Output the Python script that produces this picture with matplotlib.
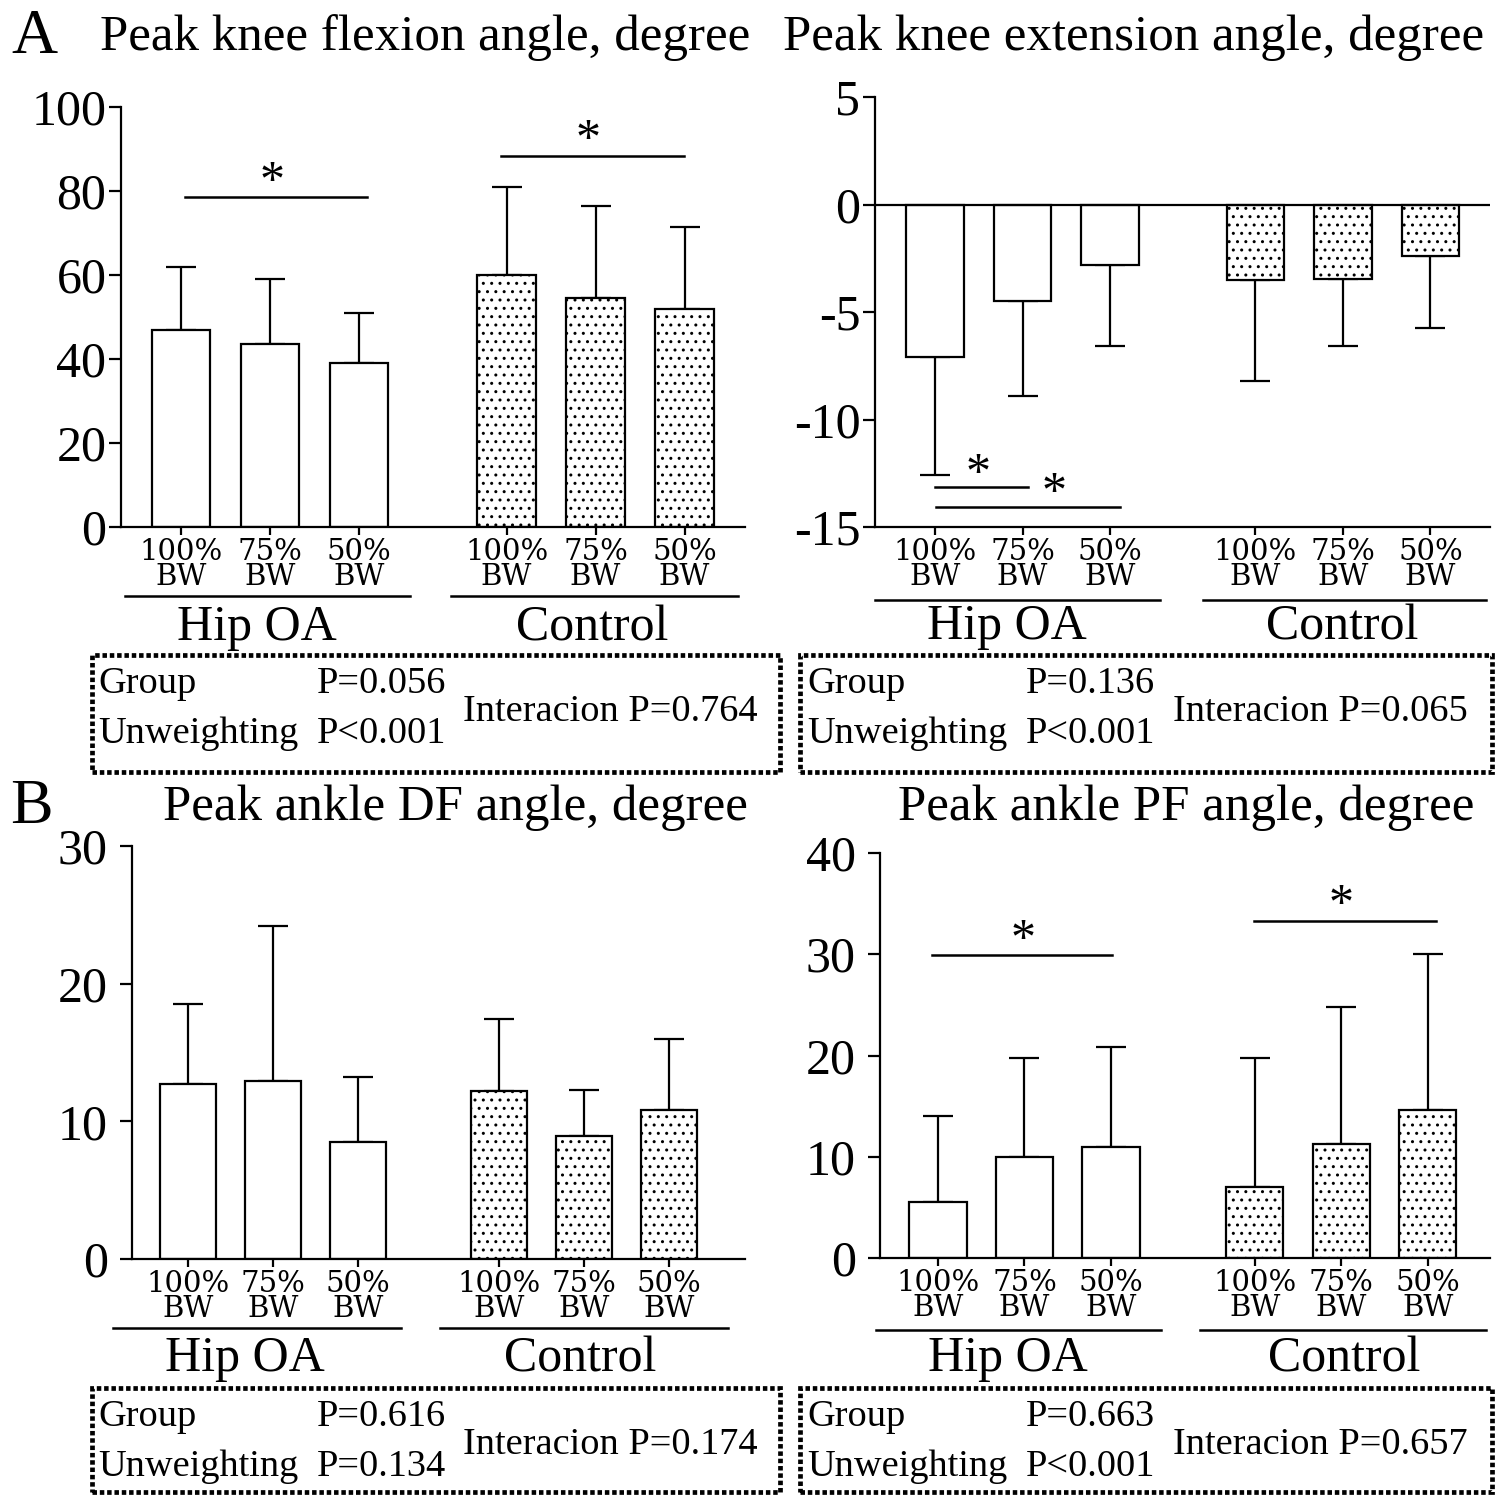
import matplotlib
matplotlib.use("Agg")
import matplotlib.pyplot as plt
import matplotlib.transforms as mtransforms
from matplotlib.patches import Rectangle

plt.rcParams['font.family'] = ['Liberation Serif', 'DejaVu Serif']
plt.rcParams['hatch.color'] = '#a8a8a8'
plt.rcParams['hatch.linewidth'] = 1.0

W, H = 1505, 1495

# ---------------- data ----------------
conditions = ['100%\nBW', '75%\nBW', '50%\nBW']
groups = ['Hip OA', 'Control']

knee_flex_mean = [47.0, 43.5, 39.0, 60.0, 54.5, 52.0]
knee_flex_sd = [15.0, 15.5, 12.0, 21.0, 22.0, 19.5]

knee_ext_mean = [-7.1, -4.5, -2.8, -3.5, -3.45, -2.4]
knee_ext_sd = [5.5, 4.4, 3.8, 4.7, 3.15, 3.35]

ankle_df_mean = [12.7, 12.9, 8.5, 12.2, 8.9, 10.8]
ankle_df_sd = [5.8, 11.3, 4.7, 5.2, 3.4, 5.2]

ankle_pf_mean = [5.5, 10.0, 11.0, 7.0, 11.3, 14.6]
ankle_pf_sd = [8.5, 9.8, 9.8, 12.8, 13.5, 15.4]

titles = ['Peak knee flexion angle, degree', 'Peak knee extension angle, degree',
          'Peak ankle DF angle, degree', 'Peak ankle PF angle, degree']

stats_group = ['P=0.056', 'P=0.136', 'P=0.616', 'P=0.663']
stats_unw = ['P<0.001', 'P<0.001', 'P=0.134', 'P<0.001']
stats_inter = ['P=0.764', 'P=0.065', 'P=0.174', 'P=0.657']

# significance annotations: (x1, x2, y_line, x_star, y_star)
sig_knee_flex = [(0.05, 2.09, 78.6, 1.02, 82.0), (3.6, 5.65, 88.3, 4.58, 92.0)]
sig_knee_ext = [(0.0, 1.06, -13.16, 0.49, -12.55), (0.01, 2.11, -14.05, 1.36, -13.45)]
sig_ankle_df = []
sig_ankle_pf = [(-0.07, 2.01, 29.9, 0.98, 31.3), (3.65, 5.76, 33.3, 4.66, 34.8)]

xpos = [0, 1, 2, 3.66, 4.66, 5.66]

fig = plt.figure(figsize=(W / 100, H / 100), dpi=100)


def fx(px):
    return px / W


def fy(py):
    return 1 - py / H


def make_panel(rect_px, xlim, ylim, yticks, means, sds, sigs, x_under, x_glabel,
               y_under, y_glabel, ypad):
    left, top, right, bottom = rect_px
    ax = fig.add_axes([fx(left), fy(bottom), (right - left) / W, (bottom - top) / H])
    ax.set_xlim(*xlim)
    ax.set_ylim(*ylim)
    for s in ['top', 'right']:
        ax.spines[s].set_visible(False)
    for s in ['left', 'bottom']:
        ax.spines[s].set_linewidth(1.6)
    ax.patch.set_alpha(0)
    for i, (x, m, sd) in enumerate(zip(xpos, means, sds)):
        hatch = '..' if i >= 3 else None
        ax.bar(x, m, width=0.66, color='white', edgecolor='black', linewidth=1.6,
               hatch=hatch, zorder=2)
        if m >= 0:
            yerr = [[0], [sd]]
        else:
            yerr = [[sd], [0]]
        ax.errorbar(x, m, yerr=yerr, fmt='none', ecolor='black', elinewidth=1.6,
                    capsize=10.5, capthick=1.6, zorder=1)
    ax.set_yticks(yticks)
    ax.set_yticklabels([str(t) for t in yticks], fontsize=36)
    ax.set_xticks(xpos)
    ax.set_xticklabels(conditions * 2, linespacing=0.85)
    for lbl in ax.get_xticklabels():
        lbl.set_fontfamily('DejaVu Serif')
        lbl.set_fontsize(21)
    ax.tick_params(axis='y', direction='out', length=8.5, width=1.6, pad=ypad)
    ax.tick_params(axis='x', direction='out', length=6, width=1.6, pad=2)
    for (x1, x2, yl, xs, ys) in sigs:
        ax.plot([x1, x2], [yl, yl], color='black', lw=1.8, clip_on=False)
        ax.text(xs, ys, '*', fontsize=36, ha='center', va='center')
    trans = mtransforms.blended_transform_factory(ax.transData, fig.transFigure)
    for (xa, xb), xl, g in zip(x_under, x_glabel, groups):
        ax.plot([xa, xb], [fy(y_under), fy(y_under)], transform=trans, color='black',
                lw=1.8, clip_on=False)
        ax.text(xl, fy(y_glabel), g, transform=trans, fontsize=36,
                ha='center', va='center')
    return ax


# top-left
make_panel((121, 107, 745, 527), (-0.674, 6.34), (0, 100), [0, 20, 40, 60, 80, 100],
           knee_flex_mean, knee_flex_sd, sig_knee_flex,
           [(-0.63, 2.57), (3.04, 6.26)], [0.85, 4.62], 596, 628, 2)
# top-right
ax_tr = make_panel((875, 97, 1490, 527), (-0.686, 6.34), (-15, 5), [5, 0, -5, -10, -15],
                   knee_ext_mean, knee_ext_sd, sig_knee_ext,
                   [(-0.69, 2.57), (3.06, 6.3)], [0.82, 4.65], 600, 627, 2)
ax_tr.axhline(0, color='black', lw=1.6, zorder=3)
# bottom-left
make_panel((132, 846, 745, 1259), (-0.659, 6.55), (0, 30), [0, 10, 20, 30],
           ankle_df_mean, ankle_df_sd, sig_ankle_df,
           [(-0.88, 2.5), (2.96, 6.35)], [0.67, 4.61], 1328, 1359, 9)
# bottom-right
make_panel((880, 853, 1490, 1258), (-0.67, 6.38), (0, 40), [0, 10, 20, 30, 40],
           ankle_pf_mean, ankle_pf_sd, sig_ankle_pf,
           [(-0.72, 2.58), (3.03, 6.33)], [0.81, 4.7], 1330, 1359, 9)

# panel letters and titles
fig.text(fx(11), fy(38), 'A', fontsize=46, ha='left', va='center')
fig.text(fx(10), fy(808), 'B', fontsize=46, ha='left', va='center')
title_pos = [(100, 38), (783, 38), (163, 808), (898, 808)]
for (tx, ty), t in zip(title_pos, titles):
    fig.text(fx(tx), fy(ty), t, fontsize=36.7, ha='left', va='center')

# statistics boxes
boxes = [(92, 655, 780, 772), (800, 655, 1492, 772), (92, 1388, 780, 1492), (800, 1388, 1492, 1492)]
text_x = [(98, 317, 463), (807, 1026, 1173), (98, 317, 463), (807, 1026, 1173)]
for i, (b, tx) in enumerate(zip(boxes, text_x)):
    x0, y0, x1, y1 = b
    rect = Rectangle((fx(x0), fy(y1)), fx(x1) - fx(x0), fy(y0) - fy(y1),
                     transform=fig.transFigure, fill=False, edgecolor='black',
                     linewidth=3.4, linestyle=(0, (0.95, 0.6)), capstyle='butt')
    fig.patches.append(rect)
    ya = y0 + 29
    yb = y0 + 79
    yc = y0 + 57
    fig.text(fx(tx[0]), fy(ya), 'Group', fontsize=27.6, ha='left', va='center')
    fig.text(fx(tx[1]), fy(ya), stats_group[i], fontsize=27.6, ha='left', va='center')
    fig.text(fx(tx[0]), fy(yb), 'Unweighting', fontsize=27.6, ha='left', va='center')
    fig.text(fx(tx[1]), fy(yb), stats_unw[i], fontsize=27.6, ha='left', va='center')
    fig.text(fx(tx[2]), fy(yc), 'Interacion ' + stats_inter[i], fontsize=27.6, ha='left', va='center')

fig.savefig('out.png', dpi=100, facecolor='white')
